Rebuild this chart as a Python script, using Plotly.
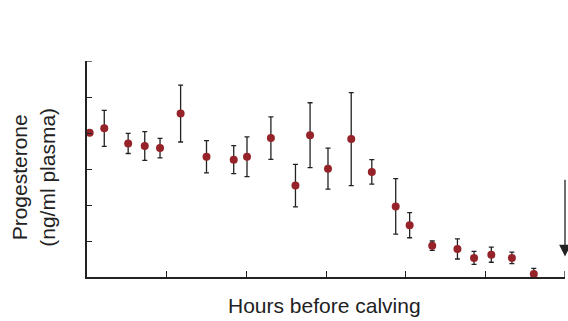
import plotly.graph_objects as go

hours = [-71.6, -69.4, -65.8, -63.3, -61.0, -57.9, -54.0, -49.9, -47.9, -44.3, -40.6,
         -38.4, -35.7, -32.2, -29.1, -25.5, -23.4, -20.0, -16.2, -13.7, -11.1, -8.0, -4.7]
progesterone = [4.01, 4.13, 3.71, 3.64, 3.58, 4.54, 3.34, 3.26, 3.34, 3.86, 2.54,
                3.94, 3.01, 3.83, 2.92, 1.96, 1.44, 0.87, 0.78, 0.53, 0.62, 0.53, 0.08]
sem = [0.0, 0.50, 0.28, 0.40, 0.27, 0.79, 0.45, 0.39, 0.55, 0.59, 0.59,
       0.90, 0.57, 1.29, 0.34, 0.77, 0.35, 0.13, 0.28, 0.18, 0.21, 0.16, 0.16]

x_ticks = [-72, -60, -48, -36, -24, -12, 0]
y_ticks = [0, 1, 2, 3, 4, 5, 6]
calving_hour = 0
arrow_tip, arrow_tail = 0.57, 2.74

ink = "#222222"
font_family = "Liberation Sans, Arial, Helvetica, sans-serif"
plot_w, plot_h = 478, 216

fig = go.Figure()
fig.add_trace(go.Scatter(
    x=hours, y=progesterone, mode="markers",
    marker=dict(color="#962329", size=8, line=dict(width=0)),
    error_y=dict(type="data", array=sem, visible=True, color=ink, thickness=1.3, width=2.5),
    cliponaxis=False, showlegend=False,
))

fig.add_annotation(x=calving_hour, y=arrow_tip, ax=calving_hour, ay=arrow_tail,
                   xref="x", yref="y", axref="x", ayref="y", text="",
                   showarrow=True, arrowhead=2, arrowsize=1.8, arrowwidth=1.3,
                   arrowcolor=ink)

# edge ticks (top of y axis, right end of x axis)
fig.add_shape(type="line", xref="paper", yref="y", x0=0, x1=5 / plot_w,
              y0=y_ticks[-1], y1=y_ticks[-1], line=dict(color=ink, width=1.3))
fig.add_shape(type="line", xref="x", yref="paper", x0=x_ticks[-1], x1=x_ticks[-1],
              y0=0, y1=6 / plot_h, line=dict(color=ink, width=1.3))

fig.add_annotation(text="Progesterone<br>(ng/ml plasma)", xref="paper", yref="paper",
                   x=-0.113, y=0.464, xanchor="center", yanchor="middle",
                   textangle=-90, showarrow=False,
                   font=dict(family=font_family, size=21, color=ink))
fig.add_annotation(text="Hours before calving", xref="paper", yref="paper",
                   x=0.497, y=-0.13, xanchor="center", yanchor="middle",
                   showarrow=False,
                   font=dict(family=font_family, size=21, color=ink))

fig.update_xaxes(range=[-72, 0], tickvals=x_ticks, showticklabels=False,
                 ticks="inside", ticklen=6, tickwidth=1.3, tickcolor=ink,
                 showline=True, linecolor=ink, linewidth=1.5, showgrid=False,
                 zeroline=False, mirror=False)
fig.update_yaxes(range=[0, 6], tickvals=y_ticks, showticklabels=False,
                 ticks="inside", ticklen=5, tickwidth=1.3, tickcolor=ink,
                 showline=True, linecolor=ink, linewidth=1.5, showgrid=False,
                 zeroline=False, mirror=False)

fig.update_layout(width=568, height=321,
                  margin=dict(l=87, r=3, t=61, b=44),
                  plot_bgcolor="white", paper_bgcolor="white",
                  font=dict(family=font_family, color=ink))

fig.write_html("out.html")
